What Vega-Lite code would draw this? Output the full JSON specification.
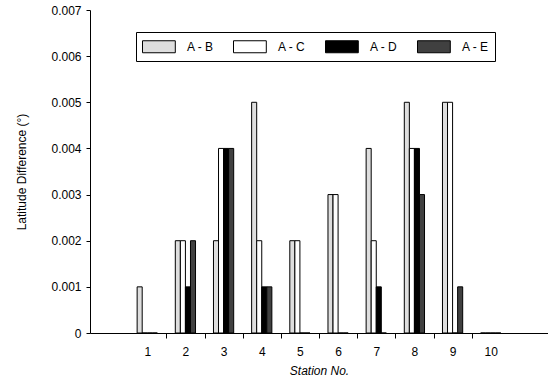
{
  "$schema": "https://vega.github.io/schema/vega-lite/v6.json",
  "width": 458,
  "height": 323,
  "autosize": {"type": "none"},
  "padding": {"left": 90, "top": 10, "right": 0, "bottom": 50},
  "config": {
    "view": {"stroke": null},
    "font": "Liberation Sans",
    "axis": {"domainColor": "black", "tickColor": "black", "labelColor": "black", "titleColor": "black", "grid": false, "labelFontSize": 12, "titleFontSize": 12, "titleFontWeight": "normal"}
  },
  "data": {
    "values": [
      {"station": 1, "pair": "A - B", "diff": 0.001},
      {"station": 1, "pair": "A - C", "diff": 0},
      {"station": 1, "pair": "A - D", "diff": 0},
      {"station": 1, "pair": "A - E", "diff": 0},
      {"station": 2, "pair": "A - B", "diff": 0.002},
      {"station": 2, "pair": "A - C", "diff": 0.002},
      {"station": 2, "pair": "A - D", "diff": 0.001},
      {"station": 2, "pair": "A - E", "diff": 0.002},
      {"station": 3, "pair": "A - B", "diff": 0.002},
      {"station": 3, "pair": "A - C", "diff": 0.004},
      {"station": 3, "pair": "A - D", "diff": 0.004},
      {"station": 3, "pair": "A - E", "diff": 0.004},
      {"station": 4, "pair": "A - B", "diff": 0.005},
      {"station": 4, "pair": "A - C", "diff": 0.002},
      {"station": 4, "pair": "A - D", "diff": 0.001},
      {"station": 4, "pair": "A - E", "diff": 0.001},
      {"station": 5, "pair": "A - B", "diff": 0.002},
      {"station": 5, "pair": "A - C", "diff": 0.002},
      {"station": 5, "pair": "A - D", "diff": 0},
      {"station": 5, "pair": "A - E", "diff": 0},
      {"station": 6, "pair": "A - B", "diff": 0.003},
      {"station": 6, "pair": "A - C", "diff": 0.003},
      {"station": 6, "pair": "A - D", "diff": 0},
      {"station": 6, "pair": "A - E", "diff": 0},
      {"station": 7, "pair": "A - B", "diff": 0.004},
      {"station": 7, "pair": "A - C", "diff": 0.002},
      {"station": 7, "pair": "A - D", "diff": 0.001},
      {"station": 7, "pair": "A - E", "diff": 0},
      {"station": 8, "pair": "A - B", "diff": 0.005},
      {"station": 8, "pair": "A - C", "diff": 0.004},
      {"station": 8, "pair": "A - D", "diff": 0.004},
      {"station": 8, "pair": "A - E", "diff": 0.003},
      {"station": 9, "pair": "A - B", "diff": 0.005},
      {"station": 9, "pair": "A - C", "diff": 0.005},
      {"station": 9, "pair": "A - D", "diff": 0},
      {"station": 9, "pair": "A - E", "diff": 0.001},
      {"station": 10, "pair": "A - B", "diff": 0},
      {"station": 10, "pair": "A - C", "diff": 0},
      {"station": 10, "pair": "A - D", "diff": 0},
      {"station": 10, "pair": "A - E", "diff": 0}
    ]
  },
  "mark": {"type": "bar", "stroke": "black", "strokeWidth": 1},
  "encoding": {
    "x": {
      "field": "station",
      "type": "ordinal",
      "scale": {"domain": [0, 1, 2, 3, 4, 5, 6, 7, 8, 9, 10, 11], "paddingInner": 0.47, "paddingOuter": 0.235},
      "axis": {
        "labelAngle": 0,
        "labelExpr": "datum.value == 0 || datum.value == 11 ? '' : datum.label",
        "tickSize": 5,
        "tickOffset": -19.08,
        "labelOffset": 19.08,
        "tickColor": {"condition": {"test": "datum.value <= 1 || datum.value == 11", "value": "transparent"}, "value": "black"},
        "labelPadding": 8,
        "title": "Station No.",
        "titleFontStyle": "italic",
        "titlePadding": 8
      }
    },
    "xOffset": {"field": "pair", "type": "nominal", "sort": ["A - B", "A - C", "A - D", "A - E"], "scale": {"paddingInner": 0}},
    "y": {
      "field": "diff",
      "type": "quantitative",
      "scale": {"domain": [0, 0.007]},
      "axis": {
        "values": [0, 0.001, 0.002, 0.003, 0.004, 0.005, 0.006, 0.007],
        "format": ".3~f",
        "tickSize": 4,
        "labelPadding": 5,
        "title": "Latitude Difference (°)",
        "titlePadding": 22
      }
    },
    "color": {
      "field": "pair",
      "type": "nominal",
      "scale": {"domain": ["A - B", "A - C", "A - D", "A - E"], "range": ["#dedede", "#ffffff", "#000000", "#404040"]},
      "legend": {
        "orient": "none",
        "legendX": 46,
        "legendY": 22,
        "direction": "horizontal",
        "title": null,
        "symbolType": "M-1,-0.75H3.1V0.75H-1Z",
        "symbolSize": 256,
        "symbolStrokeColor": "black",
        "symbolStrokeWidth": 1,
        "symbolOpacity": 1,
        "labelFontSize": 12,
        "labelColor": "black",
        "labelOffset": 28,
        "columnPadding": 17,
        "strokeColor": "black",
        "fillColor": "white",
        "padding": 6
      }
    }
  }
}
